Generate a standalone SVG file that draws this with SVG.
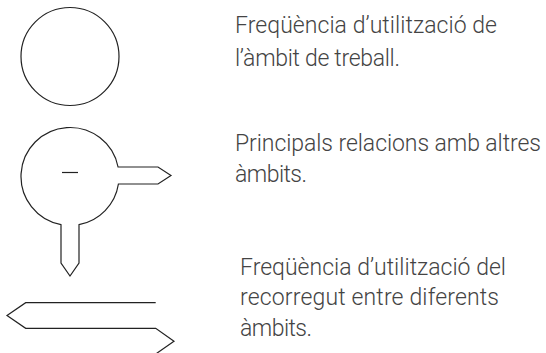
<svg xmlns="http://www.w3.org/2000/svg" width="546" height="353" viewBox="0 0 546 353">
<style>
.s{fill:none;stroke:#222;stroke-width:1.2;stroke-linejoin:miter}
.t{font-family:Roboto,"Liberation Sans",sans-serif;font-weight:300;font-size:23px;fill:#444}
</style>
<rect width="546" height="353" fill="#fff"/>
<g id="freq-ambit">
<circle class="s" cx="70" cy="56.5" r="49"/>
</g>
<g id="relacions">
<path class="s" d="M118.07,167 A49,49 0 1,0 61,224.67 L61,263 L70,276 L79,263 L79,224.67 A49,49 0 0,0 118.42,184 L158,184 L171,175.5 L158,167 Z"/>
<line class="s" x1="62" y1="172.5" x2="78" y2="172.5"/>
</g>
<g id="recorregut">
<path class="s" d="M155.7,302.7 L25.7,302.7 L7,315.5 L25.7,328.3 L155.7,328.3 L174,341.3 L155,354.5"/>
</g>
<g id="labels">
<text class="t" x="235" y="33" textLength="262" lengthAdjust="spacing">Freqüència d’utilització de</text>
<text class="t" x="235" y="65.5" textLength="165" lengthAdjust="spacing">l’àmbit de treball.</text>
<text class="t" x="235" y="151" textLength="306" lengthAdjust="spacing">Principals relacions amb altres</text>
<text class="t" x="235" y="182" textLength="72" lengthAdjust="spacing">àmbits.</text>
<text class="t" x="240" y="275" textLength="266" lengthAdjust="spacing">Freqüència d’utilització del</text>
<text class="t" x="240" y="305" textLength="259" lengthAdjust="spacing">recorregut entre diferents</text>
<text class="t" x="240" y="335.5" textLength="72" lengthAdjust="spacing">àmbits.</text>
</g>
</svg>
